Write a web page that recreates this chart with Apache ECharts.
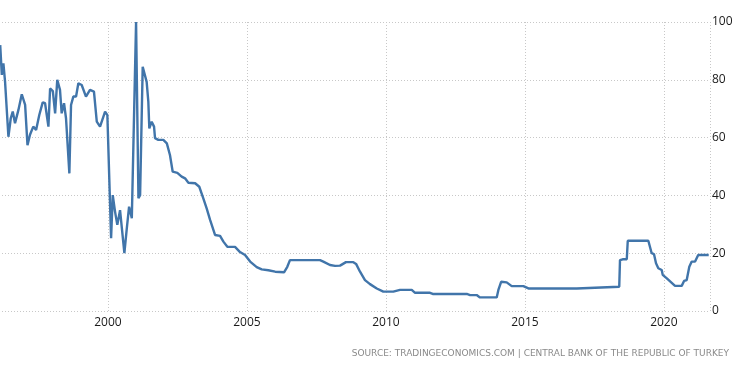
<!DOCTYPE html>
<html>
<head>
<meta charset="utf-8">
<script src="https://cdn.jsdelivr.net/npm/echarts@6/dist/echarts.min.js"></script>
<style>
html,body{margin:0;padding:0;background:#fff;overflow:hidden;width:750px;height:373px;}
#chart{position:absolute;left:-31px;top:0;width:781px;height:373px;}
</style>
</head>
<body>
<div id="chart"></div>
<script>
// Dates of the readable breakpoints of the rate series
var dates = [
 "1996-02-15","1996-03-07","1996-03-28","1996-04-19","1996-06-02","1996-07-03","1996-07-29","1996-08-28",
 "1996-10-11","1996-11-25","1997-01-08","1997-02-08","1997-03-13","1997-04-25","1997-06-01","1997-07-13",
 "1997-08-27","1997-09-27","1997-11-10","1997-12-02","1998-01-07","1998-02-06","1998-03-06","1998-04-11",
 "1998-05-03","1998-06-03","1998-06-29","1998-08-12","1998-09-03","1998-10-03","1998-11-08","1998-12-08",
 "1999-01-21","1999-03-18","1999-05-10","1999-07-01","1999-08-07","1999-09-19","1999-10-11","1999-11-24",
 "1999-12-24","2000-02-11","2000-03-04","2000-04-03","2000-05-03","2000-06-08","2000-07-01","2000-08-04",
 "2000-09-05","2000-10-05","2000-11-10","2001-01-05","2001-02-05","2001-02-27","2001-04-02","2001-05-24",
 "2001-06-15","2001-06-28","2001-07-29","2001-08-29","2001-09-11","2001-10-24","2001-12-29","2002-02-13",
 "2002-03-26","2002-05-01","2002-07-01","2002-08-27","2002-10-10","2002-11-23","2003-02-20","2003-04-15",
 "2003-06-07","2003-07-21","2003-09-04","2003-11-08","2004-01-13","2004-02-26","2004-04-18","2004-07-28",
 "2004-10-02","2004-12-07","2005-02-12","2005-05-09","2005-07-14","2005-10-09","2006-01-06","2006-05-03",
 "2006-06-15","2006-07-20","2007-08-18","2007-10-01","2007-12-28","2008-03-03","2008-05-08","2008-07-25",
 "2008-10-30","2008-12-05","2009-01-26","2009-04-01","2009-06-06","2009-09-03","2009-11-28","2010-04-08",
 "2010-07-05","2010-12-06","2011-01-19","2011-08-03","2011-09-08","2012-11-29","2013-01-11","2013-04-08",
 "2013-05-21","2013-12-27","2014-01-18","2014-02-23","2014-05-07","2014-07-12","2014-12-12","2015-02-17",
 "2016-11-13","2016-12-04","2018-05-25","2018-06-04","2018-07-09","2018-09-01","2018-09-14","2019-06-11",
 "2019-07-25","2019-08-24","2019-09-20","2019-10-20","2019-12-04","2019-12-17","2020-02-09","2020-05-27",
 "2020-08-23","2020-09-23","2020-10-28","2020-12-01","2021-01-02","2021-02-15","2021-03-28","2021-08-13"
];
var rates = [
 92,81.7,85.7,79.3,60.3,66.7,69,65,
 69.5,75,71.3,57.4,61,63.8,62.6,67.8,
 72.2,71.9,63.8,77,76.1,68.4,80,76.5,
 68.4,71.9,66.7,47.6,71.3,74.2,74.2,78.8,
 78.2,74.2,76.5,75.9,65.5,63.8,63.2,69,
 67.8,25.2,40.1,34.4,29.8,34.9,34.4,20,
 28.6,36.1,32.1,100,39,40.1,84.5,79.3,
 72.4,63.2,65.5,63.8,59.8,59.2,59.2,58,
 54,48.2,47.8,46.5,45.9,44.4,44.2,43,
 39,35.5,31.5,26.3,26,24,22.2,22.2,
 20.4,19.4,17.1,15.2,14.4,14.1,13.6,13.4,
 15.3,17.6,17.6,17.1,15.9,15.6,15.7,16.9,
 16.9,16.3,13.6,10.7,9.3,7.8,6.7,6.7,
 7.3,7.3,6.3,6.3,5.9,5.9,5.5,5.5,
 4.7,4.7,7.3,10.1,9.9,8.6,8.6,7.8,
 7.8,8.4,8.4,17.6,17.9,17.9,24.3,24.3,
 20,19.7,16.5,14.8,14.2,12.5,11.3,8.7,
 8.7,10.4,10.7,15.3,17.1,17.1,19.4,19.4
];
var yTicks = [0,20,40,60,80,100];
var xTickYears = [2000,2005,2010,2015,2020];
var sourceText = "SOURCE: TRADINGECONOMICS.COM | CENTRAL BANK OF THE REPUBLIC OF TURKEY";

function decYear(s){
  var p = s.split("-").map(Number);
  var start = Date.UTC(p[0],0,1), end = Date.UTC(p[0]+1,0,1);
  return p[0] + (Date.UTC(p[0],p[1]-1,p[2]) - start)/(end-start);
}
var seriesData = dates.map(function(d,i){ return [decYear(d), rates[i]]; });

var chart = echarts.init(document.getElementById('chart'), null, {renderer:'canvas'});
var dotted = {show:true, lineStyle:{color:'#c8c8c8', type:[1,2], width:1}};
chart.setOption({
  animation:false,
  backgroundColor:'#ffffff',
  grid:{left:0, right:40, top:22, bottom:62, containLabel:false},
  xAxis:{
    type:'value', min:1995, max:2021.66, interval:5,
    axisLine:{show:false}, axisTick:{show:false},
    splitLine:dotted,
    axisLabel:{
      color:'#1a1a1a', fontSize:12, fontFamily:'Open Sans', margin:6,
      showMaxLabel:false, showMinLabel:false,
      formatter:function(v){ return xTickYears.indexOf(Math.round(v))>=0 ? String(Math.round(v)) : ''; }
    }
  },
  yAxis:{
    type:'value', position:'right', min:yTicks[0], max:yTicks[yTicks.length-1], interval:20,
    axisLine:{show:false}, axisTick:{show:false},
    splitLine:dotted,
    axisLabel:{color:'#1a1a1a', fontSize:12, fontFamily:'Open Sans', margin:2}
  },
  title:{
    text:sourceText, right:16, bottom:10,
    textStyle:{color:'#8a8a8a', fontSize:9, fontWeight:'normal', fontFamily:'DejaVu Sans'}
  },
  series:[{
    type:'line', data:seriesData, showSymbol:false, symbol:'none',
    lineStyle:{color:'#4175aa', width:2.4}, clip:true
  }]
});
</script>
</body>
</html>
